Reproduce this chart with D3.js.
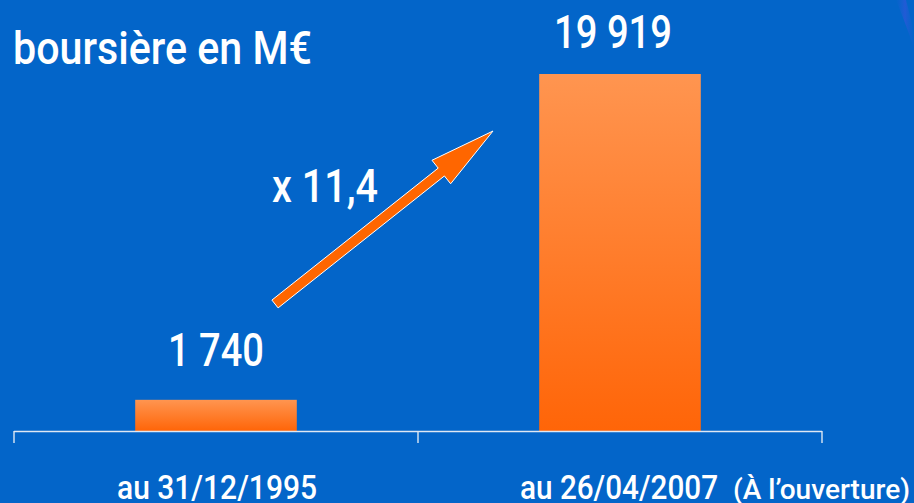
<!DOCTYPE html>
<html>
<head>
<meta charset="utf-8">
<script src="https://cdn.jsdelivr.net/npm/d3@7/dist/d3.min.js"></script>
<style>
  html, body { margin: 0; padding: 0; background: #0365c9; }
  svg { display: block; }
  text { font-family: Roboto, "Liberation Sans", Arial, sans-serif; font-weight: 500; fill: #ffffff; }
</style>
</head>
<body>
<svg id="chart" width="914" height="503"></svg>
<script>
// ---- data ----
const categories = ["au 31/12/1995", "au 26/04/2007"];
const categoryNotes = ["", "(À l\u2019ouverture)"];
const values = [1740, 19919];
const valueLabels = ["1 740", "19 919"];
const titleText = "boursière en M€";
const ratioText = "x 11,4";

const W = 914, H = 503;
const svg = d3.select("#chart");

// background
const defs = svg.append("defs");
svg.append("rect").attr("width", W).attr("height", H).attr("fill", "#0365c9");

// subtle swoosh in top right corner
const sw = defs.append("linearGradient").attr("id", "sw").attr("x1", 0).attr("y1", 0).attr("x2", 1).attr("y2", 0);
sw.append("stop").attr("offset", "0%").attr("stop-color", "#1a5fd6").attr("stop-opacity", 0);
sw.append("stop").attr("offset", "50%").attr("stop-color", "#2a58d8").attr("stop-opacity", 0.8);
sw.append("stop").attr("offset", "100%").attr("stop-color", "#1a5fd6").attr("stop-opacity", 0);
svg.append("path")
  .attr("d", "M896,0 L906,0 C910,15 914,30 914,40 L914,48 C908,30 902,15 896,0 Z")
  .attr("fill", "url(#sw)");

// bar gradient
const bg2 = defs.append("linearGradient").attr("id", "barGrad").attr("x1", 0).attr("y1", 0).attr("x2", 0).attr("y2", 1);
bg2.append("stop").attr("offset", "0%").attr("stop-color", "#ff9550");
bg2.append("stop").attr("offset", "100%").attr("stop-color", "#ff6508");

// scales
const x = d3.scaleBand().domain(categories).range([14, 822]).paddingInner(0.6).paddingOuter(0.3);
const y = d3.scaleLinear().domain([0, 19919]).range([431, 74]);

// bars
svg.append("g").selectAll("rect").data(values).join("rect")
  .attr("x", (d, i) => x(categories[i]))
  .attr("y", d => y(d))
  .attr("width", x.bandwidth())
  .attr("height", d => y(0) - y(d))
  .attr("fill", "url(#barGrad)");

// axis line with ticks at band boundaries
const axisG = svg.append("g");
const y0 = y(0);
axisG.append("line").attr("x1", 14).attr("x2", 822).attr("y1", y0 + 0.5).attr("y2", y0 + 0.5)
  .attr("stroke", "#dfe8f4").attr("stroke-width", 1.4);
const tickXs = [x.range()[0], (x.range()[0] + x.range()[1]) / 2, x.range()[1]];
axisG.selectAll("line.tick").data(tickXs).join("line").attr("class", "tick")
  .attr("x1", d => d).attr("x2", d => d).attr("y1", y0).attr("y2", y0 + 12)
  .attr("stroke", "#dfe8f4").attr("stroke-width", 1.4);

// value labels
const labelTargets = [96, 118];
svg.append("g").selectAll("text").data(valueLabels).join("text")
  .attr("x", (d, i) => x(categories[i]) + x.bandwidth() / 2 - (i === 1 ? 7 : 0))
  .attr("y", (d, i) => Math.max(y(values[i]) - 34, 48))
  .attr("text-anchor", "middle")
  .attr("font-size", 46)
  .attr("textLength", (d, i) => labelTargets[i])
  .attr("lengthAdjust", "spacingAndGlyphs")
  .text(d => d);

// title
svg.append("text").attr("x", 13).attr("y", 64).attr("font-size", 46)
  .attr("textLength", 299).attr("lengthAdjust", "spacingAndGlyphs").text(titleText);

// category labels
const catG = svg.append("g");
catG.append("text").attr("x", 117).attr("y", 499).attr("font-size", 33)
  .attr("textLength", 200).attr("lengthAdjust", "spacingAndGlyphs").text(categories[0]);
catG.append("text").attr("x", 520).attr("y", 499).attr("font-size", 33)
  .attr("textLength", 198).attr("lengthAdjust", "spacingAndGlyphs").text(categories[1]);
catG.append("text").attr("x", 733).attr("y", 499).attr("font-size", 27)
  .attr("textLength", 177).attr("lengthAdjust", "spacingAndGlyphs").text(categoryNotes[1]);

// growth arrow (annotation)
const tail = [275, 304], tip = [493, 131];
const dx = tip[0] - tail[0], dy = tip[1] - tail[1];
const len = Math.hypot(dx, dy);
const ux = dx / len, uy = dy / len, nx = -uy, ny = ux;
const shaftHalf = 5, headHalf = 15, headLen = 66;
const hb = [tip[0] - ux * headLen, tip[1] - uy * headLen];
const pt = (p, s) => [p[0] + nx * s, p[1] + ny * s];
const arrowPts = [
  pt(tail, -shaftHalf), pt(hb, -shaftHalf), pt(hb, -headHalf), tip,
  pt(hb, headHalf), pt(hb, shaftHalf), pt(tail, shaftHalf)
];
svg.append("path")
  .attr("d", d3.line()(arrowPts) + "Z")
  .attr("fill", "#ff6600").attr("stroke", "#ffffff").attr("stroke-width", 1);

// ratio label
svg.append("text").attr("x", 272).attr("y", 202).attr("font-size", 46)
  .attr("textLength", 106).attr("lengthAdjust", "spacingAndGlyphs").text(ratioText);
</script>
</body>
</html>
